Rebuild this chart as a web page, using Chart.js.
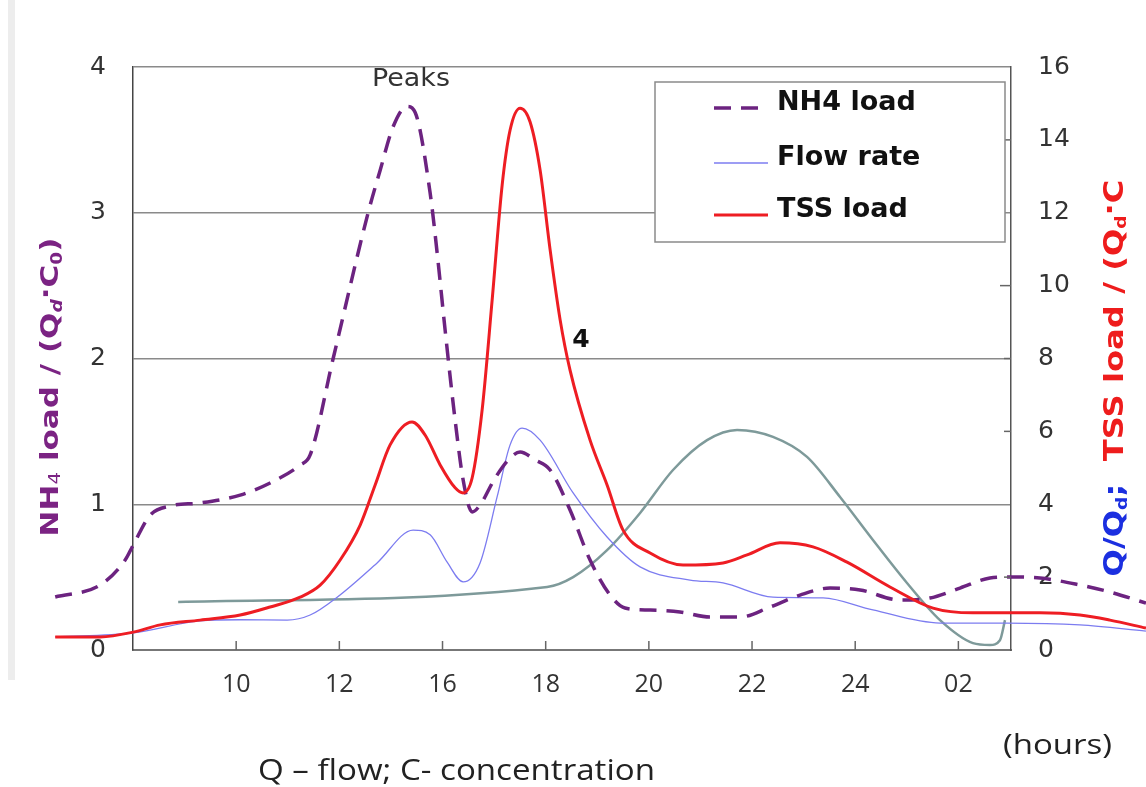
<!DOCTYPE html>
<html>
<head>
<meta charset="utf-8">
<script src="https://cdn.jsdelivr.net/npm/chart.js@4.4.1/dist/chart.umd.min.js"></script>
<style>
html,body{margin:0;padding:0;background:#fff;}
#wrap{width:1146px;height:787px;position:relative;}
canvas{display:block;}
</style>
</head>
<body>
<div id="wrap"><canvas id="c" width="1146" height="787"></canvas></div>
<script>
// ---- tick labels ----
const hourLabels = ['10','12','16','18','20','22','24','02'];

// ---- NH4 load (left axis) ----
const nh4Hours = [-1.754,-1.318,-1.076,-0.998,-0.833,-0.64,-0.349,0.039,0.329,0.62,0.717,0.94,1.279,1.395,1.521,1.657,1.734,1.88,1.948,2.025,2.122,2.2,2.287,2.364,2.51,2.655,2.752,2.897,3.043,3.236,3.43,3.624,3.769,4.012,4.302,4.593,4.884,5.174,5.465,5.756,6.047,6.434,6.725,7.016,7.306,7.5,7.791,8.178,8.469,8.818];
const nh4Load = [0.364,0.446,0.617,0.72,0.926,0.988,1.009,1.063,1.146,1.269,1.338,2.0,3.0,3.29,3.59,3.73,3.69,3.135,2.724,2.196,1.578,1.166,0.947,0.995,1.18,1.317,1.358,1.304,1.235,0.961,0.617,0.377,0.288,0.274,0.261,0.226,0.226,0.295,0.377,0.425,0.412,0.343,0.357,0.425,0.494,0.501,0.494,0.446,0.398,0.322];

// ---- Flow rate (right axis) ----
const flowHours = [-1.754,-0.998,-0.349,0.039,0.494,0.717,0.979,1.366,1.715,1.88,2.045,2.2,2.364,2.529,2.655,2.771,2.946,3.266,3.595,3.915,4.399,4.719,5.203,5.688,6.172,6.822,7.471,8.178,8.818];
const flowRate = [0.36,0.47,0.8,0.83,0.82,0.96,1.45,2.39,3.29,3.16,2.41,1.87,2.39,4.2,5.63,6.09,5.76,4.31,3.1,2.28,1.92,1.84,1.45,1.43,1.1,0.74,0.74,0.69,0.52];

// ---- TSS load (right axis) ----
const tssHours = [-1.754,-1.318,-0.998,-0.736,-0.349,0.039,0.329,0.62,0.814,1.008,1.202,1.347,1.492,1.705,1.831,1.977,2.122,2.2,2.287,2.384,2.481,2.578,2.655,2.752,2.849,2.946,3.043,3.14,3.236,3.43,3.595,3.75,4.012,4.331,4.719,4.952,5.271,5.591,5.921,6.337,6.754,7.141,7.5,7.791,8.178,8.469,8.818];
const tssLoad = [0.36,0.36,0.49,0.69,0.82,0.96,1.18,1.45,1.78,2.47,3.43,4.53,5.63,6.26,5.9,5.08,4.45,4.31,4.72,6.59,9.6,12.76,14.27,14.87,14.49,13.17,10.98,9.06,7.68,5.76,4.53,3.29,2.66,2.33,2.39,2.61,2.94,2.83,2.41,1.73,1.15,1.02,1.02,1.02,0.96,0.82,0.6];

// ---- unlabelled grey curve (right axis) ----
const refHours = [-0.562,3.014,3.266,3.595,3.915,4.234,4.564,4.855,5.203,5.533,5.853,6.172,6.502,6.822,7.141,7.306,7.403,7.452];
const refCurve = [1.32,1.73,2.0,2.74,3.76,4.94,5.76,6.04,5.85,5.3,4.2,3.02,1.84,0.82,0.19,0.14,0.27,0.82];

const pts = (xs, ys) => xs.map((x, i) => ({x, y: ys[i]}));

function fitText(ctx, text, x, y, width, font, color) {
  ctx.save();
  ctx.font = font; ctx.fillStyle = color; ctx.textBaseline = 'alphabetic'; ctx.textAlign = 'left';
  const w = ctx.measureText(text).width;
  ctx.translate(x, y); ctx.scale(width / w, 1);
  ctx.fillText(text, 0, 0);
  ctx.restore();
}
function richVertical(ctx, parts, cx, cy, length, base) {
  ctx.save();
  ctx.translate(cx, cy); ctx.rotate(-Math.PI / 2);
  let total = 0;
  parts.forEach(p => { ctx.font = p.font; p.w = ctx.measureText(p.t).width; total += p.w; });
  ctx.scale(length / total, 1);
  ctx.textBaseline = 'alphabetic'; ctx.textAlign = 'left';
  let x = -total / 2;
  parts.forEach(p => { ctx.font = p.font; ctx.fillStyle = p.color; ctx.fillText(p.t, x, base + (p.dy || 0)); x += p.w; });
  ctx.restore();
}

const decor = {
  id: 'decor',
  beforeDraw(chart) {
    const ctx = chart.ctx;
    ctx.save();
    ctx.fillStyle = '#ededed';
    ctx.fillRect(8, 0, 7, 680);
    ctx.restore();
  },
  afterDraw(chart) {
    const ctx = chart.ctx;
    const {x, yR} = chart.scales;
    const a = chart.chartArea;
    ctx.save();
    // inward tick marks
    ctx.strokeStyle = '#666'; ctx.lineWidth = 1.5;
    hourLabels.forEach((_, i) => {
      const px = x.getPixelForValue(i);
      ctx.beginPath(); ctx.moveTo(px, a.bottom); ctx.lineTo(px, a.bottom - 9); ctx.stroke();
    });
    [14, 10, 8, 6, 2].forEach(v => {
      const py = yR.getPixelForValue(v);
      ctx.beginPath(); ctx.moveTo(a.right, py); ctx.lineTo(a.right - (v === 10 ? 11 : 7), py); ctx.stroke();
    });

    // legend box
    const lx = 655, ly = 82, lw = 350, lh = 160;
    ctx.fillStyle = '#fff'; ctx.fillRect(lx, ly, lw, lh);
    ctx.strokeStyle = '#8a8a8a'; ctx.lineWidth = 1.5; ctx.strokeRect(lx, ly, lw, lh);
    const rows = [103, 158, 210];
    const items = chart.data.datasets.filter(d => d.label);
    items.forEach((d, i) => {
      const y = rows[i];
      ctx.save();
      ctx.strokeStyle = d.borderColor; ctx.lineWidth = d.borderWidth;
      ctx.setLineDash(d.borderDash || []);
      ctx.beginPath(); ctx.moveTo(714, y + 5); ctx.lineTo(768, y + 5); ctx.stroke();
      ctx.restore();
      ctx.font = 'bold 27px "DejaVu Sans"'; ctx.fillStyle = '#111';
      ctx.textBaseline = 'middle'; ctx.textAlign = 'left';
      ctx.fillText(d.label, 777, y);
    });

    // annotations
    fitText(ctx, 'Peaks', 372, 86, 78, '24px "DejaVu Sans"', '#333');
    ctx.font = 'bold 25px "DejaVu Sans"'; ctx.fillStyle = '#111'; ctx.textAlign = 'center'; ctx.textBaseline = 'middle';
    ctx.fillText('4', 581, 340);
    fitText(ctx, 'Q \u2013 flow; C- concentration', 258, 780, 397, '29px "Open Sans"', '#222');
    fitText(ctx, '(hours)', 1003, 754, 109, '28px "Open Sans"', '#222');

    // axis titles
    const P = '#7b2383';
    richVertical(ctx, [
      {t: 'NH', font: 'bold 25px "DejaVu Sans"', color: P},
      {t: '4', font: '16px "DejaVu Sans"', color: P, dy: 2},
      {t: ' load / (Q', font: 'bold 25px "DejaVu Sans"', color: P},
      {t: 'd', font: 'bold italic 15px "DejaVu Sans"', color: P, dy: 4},
      {t: '\u00b7', font: 'bold 25px "DejaVu Sans"', color: P, dy: -4},
      {t: 'C', font: 'bold 25px "DejaVu Sans"', color: P},
      {t: '0', font: 'bold 15px "DejaVu Sans"', color: P, dy: 4},
      {t: ')', font: 'bold 25px "DejaVu Sans"', color: P}
    ], 49, 387, 299, 9);
    const B = '#1b2fe0', R = '#ee1c1c';
    richVertical(ctx, [
      {t: 'Q/Q', font: 'bold 26px "DejaVu Sans"', color: B},
      {t: 'd', font: 'bold 15px "DejaVu Sans"', color: B, dy: 4},
      {t: ';  ', font: 'bold 26px "DejaVu Sans"', color: B},
      {t: 'TSS load / (Q', font: 'bold 26px "DejaVu Sans"', color: R},
      {t: 'd', font: 'bold 15px "DejaVu Sans"', color: R, dy: 3},
      {t: '\u00b7', font: 'bold 26px "DejaVu Sans"', color: R, dy: -4},
      {t: 'C', font: 'bold 26px "DejaVu Sans"', color: R}
    ], 1113, 378, 397, 10);
    ctx.restore();
  }
};

new Chart(document.getElementById('c'), {
  type: 'line',
  data: {
    datasets: [
      {label: 'NH4 load', data: pts(nh4Hours, nh4Load), yAxisID: 'yL', borderColor: '#6c2380', borderWidth: 3.5, borderDash: [17, 10], order: 2},
      {label: 'Flow rate', data: pts(flowHours, flowRate), yAxisID: 'yR', borderColor: '#7c7cf0', borderWidth: 1.3, order: 3},
      {label: 'TSS load', data: pts(tssHours, tssLoad), yAxisID: 'yR', borderColor: '#ee1d23', borderWidth: 3, order: 1},
      {label: '', data: pts(refHours, refCurve), yAxisID: 'yR', borderColor: '#7e9a9a', borderWidth: 2.5, order: 4}
    ]
  },
  options: {
    responsive: false,
    devicePixelRatio: 1,
    animation: false,
    layout: {padding: {top: 67, left: 0, right: 0, bottom: 0}},
    elements: {
      point: {radius: 0, hoverRadius: 0},
      line: {cubicInterpolationMode: 'monotone', fill: false}
    },
    datasets: {line: {clip: false, pointRadius: 0}},
    plugins: {legend: {display: false}, tooltip: {enabled: false}, title: {display: false}},
    scales: {
      x: {
        type: 'linear', position: 'bottom',
        afterBuildTicks: s => { s.ticks = hourLabels.map((_, i) => ({value: i})); s.min = -1; s.max = 7.51; },
        afterFit: s => { s.height = 137; },
        ticks: {callback: v => hourLabels[v] ?? '', font: {family: 'Open Sans', size: 25}, color: '#333', padding: 20, maxRotation: 0, autoSkip: false},
        grid: {display: false, drawTicks: false},
        border: {display: true, color: '#777', width: 2}
      },
      yL: {
        type: 'linear', position: 'left', min: 0, max: 4,
        afterFit: s => { s.width = 133; },
        ticks: {stepSize: 1, font: {family: 'DejaVu Sans', size: 25}, color: '#333', padding: 27},
        grid: {color: '#8a8a8a', lineWidth: 1.5, drawTicks: false},
        border: {color: '#444', width: 1.5}
      },
      yR: {
        type: 'linear', position: 'right', min: 0, max: 16,
        afterFit: s => { s.width = 135; },
        ticks: {stepSize: 2, font: {family: 'DejaVu Sans', size: 25}, color: '#333', padding: 27},
        grid: {display: false, drawTicks: false},
        border: {color: '#555', width: 1.5}
      }
    }
  },
  plugins: [decor]
});
</script>
</body>
</html>
